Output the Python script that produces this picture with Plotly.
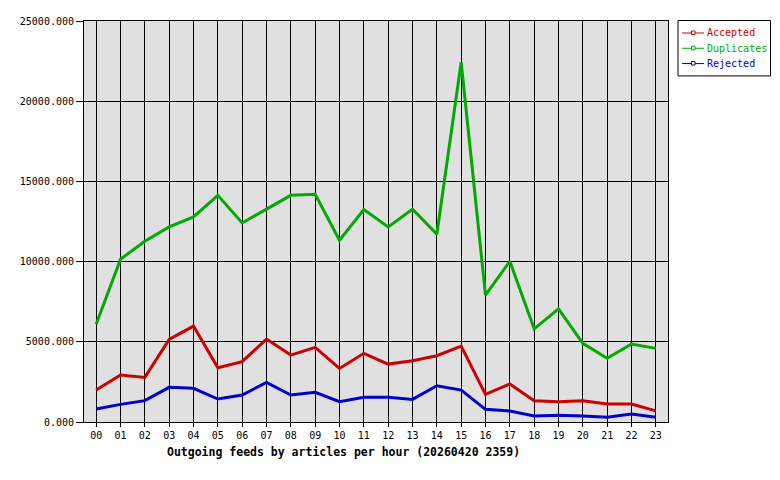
import plotly.graph_objects as go

hours = [f"{h:02d}" for h in range(24)]
accepted = [1990, 2930, 2780, 5150, 5980, 3380, 3760, 5170, 4170, 4650, 3340, 4280,
            3610, 3820, 4130, 4730, 1720, 2370, 1330, 1270, 1330, 1120, 1120, 690]
duplicates = [6100, 10150, 11270, 12160, 12790, 14130, 12410, 13260, 14130, 14200, 11330, 13240,
              12160, 13260, 11710, 22430, 7910, 10020, 5810, 7050, 4900, 3970, 4860, 4590]
rejected = [810, 1100, 1330, 2160, 2100, 1430, 1680, 2470, 1680, 1850, 1270, 1540,
            1540, 1410, 2260, 1990, 790, 690, 370, 420, 370, 290, 500, 290]
series_names = ["Accepted", "Duplicates", "Rejected"]
series_colors = ["#cc0000", "#00aa00", "#0000cc"]
y_ticks = [0, 5000, 10000, 15000, 20000, 25000]
title_text = "Outgoing feeds by articles per hour (20260420 2359)"

FONT = "DejaVu Sans Mono"
W, H = 780, 480
L, R, T, B = 84, 668, 20.5, 422


def px(x):
    return (x - L) / (R - L)


def py(y):
    return (B - y) / (B - T)


fig = go.Figure()
xs = list(range(24))
for name, vals, col in zip(series_names, [accepted, duplicates, rejected], series_colors):
    fig.add_trace(go.Scatter(x=xs, y=vals, mode="lines", line=dict(color=col, width=3),
                             name=name, showlegend=False, hoverinfo="skip"))

shapes = [dict(type="rect", xref="paper", yref="paper", x0=px(678), x1=px(770.5),
               y0=py(20), y1=py(75.5), line=dict(color="black", width=1), fillcolor="white",
               layer="above")]
annotations = []
for i, (name, col) in enumerate(zip(series_names, series_colors)):
    yy = 32.5 + i * 15.3
    shapes.append(dict(type="line", xref="paper", yref="paper", x0=px(682), x1=px(704),
                       y0=py(yy), y1=py(yy), line=dict(color=col, width=1), layer="above"))
    shapes.append(dict(type="rect", xref="paper", yref="paper", x0=px(691.5), x1=px(695),
                       y0=py(yy + 1.5), y1=py(yy - 2), line=dict(color=col, width=1),
                       fillcolor="white", layer="above"))
    annotations.append(dict(text=name, x=px(705), y=py(yy), xref="paper", yref="paper",
                            xanchor="left", yanchor="middle", showarrow=False,
                            font=dict(family=FONT, size=10, color=col)))
annotations.append(dict(text=f"<b>{title_text}</b>", x=px(343), y=py(452),
                        xref="paper", yref="paper", xanchor="center", yanchor="middle",
                        showarrow=False, font=dict(family=FONT, size=11.5, color="black")))

fig.update_layout(
    width=W, height=H,
    margin=dict(l=L, r=W - R, t=T, b=H - B),
    paper_bgcolor="white", plot_bgcolor="#e0e0e0",
    font=dict(family=FONT, size=10, color="black"),
    showlegend=False,
    xaxis=dict(range=[-0.5, 23.5], tickvals=xs, ticktext=hours,
               showgrid=True, gridcolor="black", gridwidth=1,
               showline=True, mirror=True, linecolor="black", linewidth=1,
               ticks="outside", ticklen=4, tickcolor="black", zeroline=False),
    yaxis=dict(range=[0, 25000], tickvals=y_ticks, tickformat=".3f",
               showgrid=True, gridcolor="black", gridwidth=1,
               showline=True, mirror=True, linecolor="black", linewidth=1,
               ticks="outside", ticklen=7, tickcolor="black", zeroline=False),
    shapes=shapes,
    annotations=annotations,
)
fig.write_html("out.html")
